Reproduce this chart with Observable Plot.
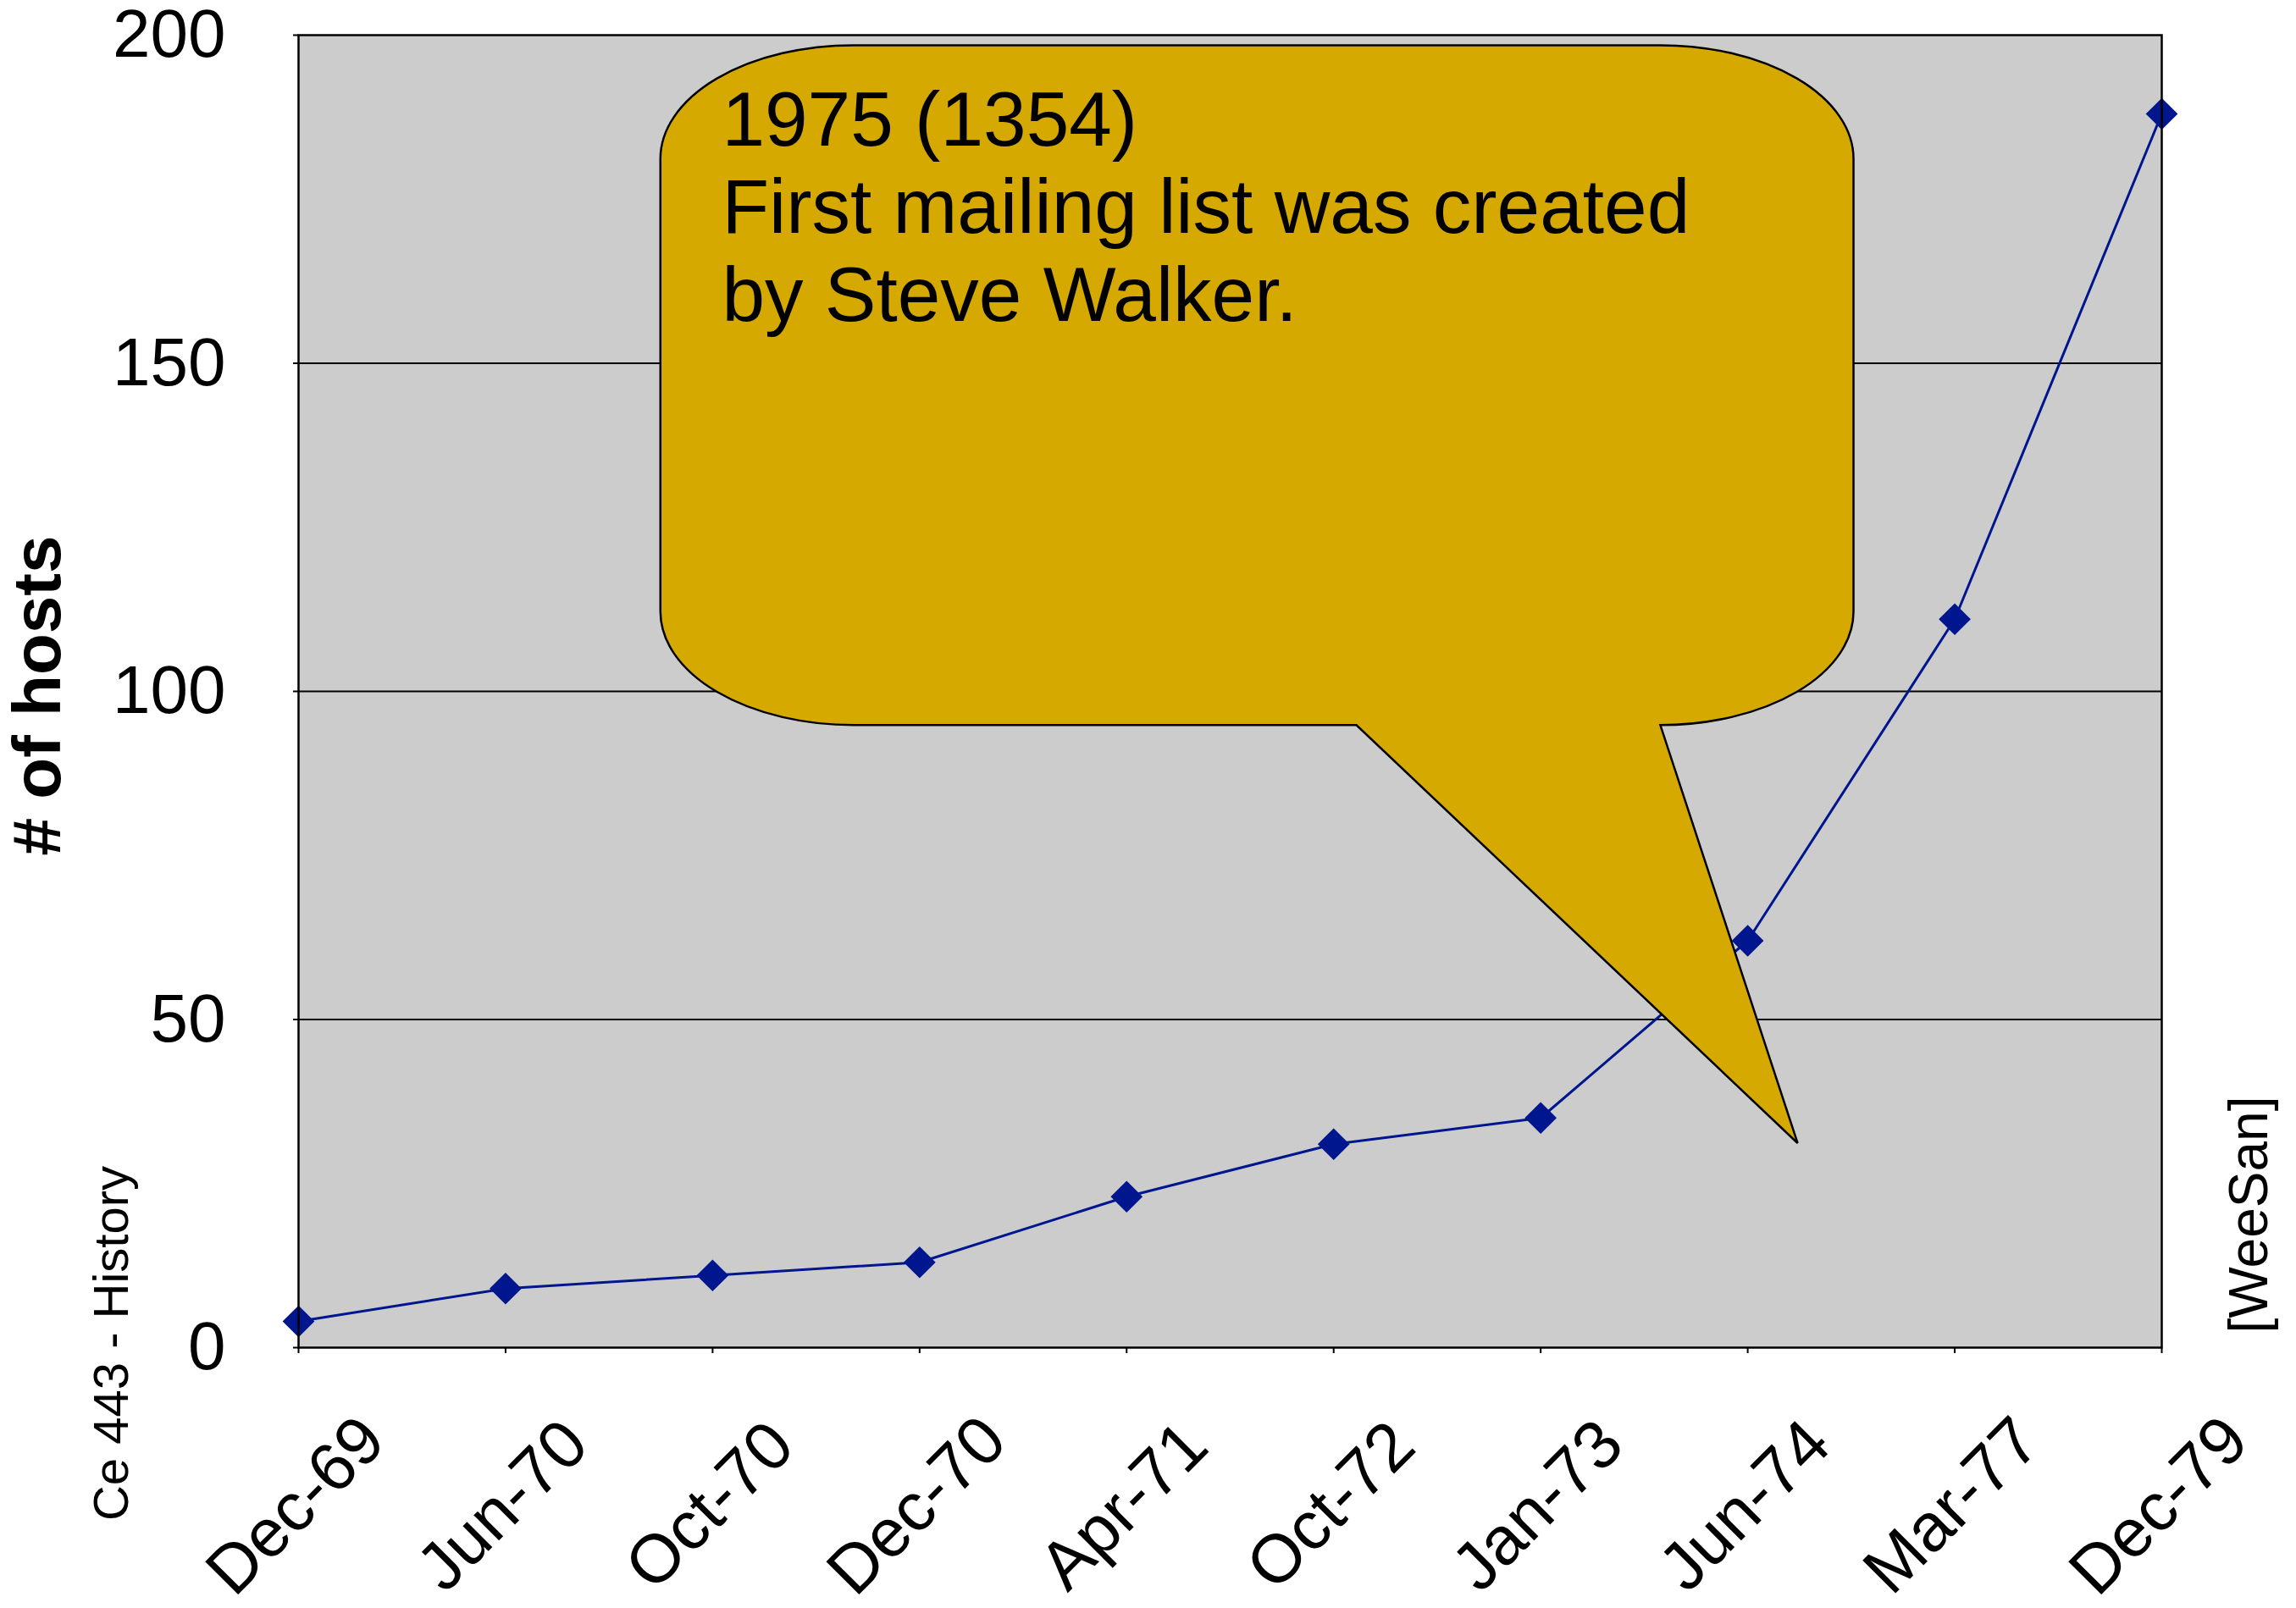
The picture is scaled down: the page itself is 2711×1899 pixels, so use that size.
<!DOCTYPE html>
<html><head><meta charset="utf-8">
<script src="https://cdn.jsdelivr.net/npm/d3@7"></script>
<script src="https://cdn.jsdelivr.net/npm/@observablehq/plot@0.6"></script>
<style>html,body{margin:0;padding:0;background:#fff;overflow:hidden}</style>
</head><body><div id="chart"></div>
<script>
const months = ["Dec-69","Jun-70","Oct-70","Dec-70","Apr-71","Oct-72","Jan-73","Jun-74","Mar-77","Dec-79"];
const hosts = [4, 9, 11, 13, 23, 31, 35, 62, 111, 188];
const yTicks = [0, 50, 100, 150, 200];
const noteLines = ["1975 (1354)", "First mailing list was created", "by Steve Walker."];
const yLabel = "# of hosts";
const leftNote = "Ce 443 - History";
const rightNote = "[WeeSan]";

const data = months.map((m, i) => ({i, month: m, hosts: hosts[i]}));
const idx = months.map((m, i) => i);

// callout geometry in data units (x = category index, y = hosts)
const callout = {x1: 1.75, x2: 7.513, y1: 94.8, y2: 198.4, rx: 0.933, ry: 17.3,
  base1: 5.112, tipX: 7.243, tipY: 31.1, textX: 2.045, textY: 192.7};

const navy = "#00168f";
const gold = "#d5a900";

function bubble(index, scales) {
  const {x, y} = scales;
  const L = x(callout.x1), R = x(callout.x2), T = y(callout.y2), B = y(callout.y1);
  const rx = x(callout.x1 + callout.rx) - L, ry = y(callout.y2 - callout.ry) - T;
  const d = `M${L + rx},${T} L${R - rx},${T} A${rx},${ry} 0 0 1 ${R},${T + ry} L${R},${B - ry} ` +
    `A${rx},${ry} 0 0 1 ${R - rx},${B} L${x(callout.tipX)},${y(callout.tipY)} L${x(callout.base1)},${B} ` +
    `L${L + rx},${B} A${rx},${ry} 0 0 1 ${L},${B - ry} L${L},${T + ry} A${rx},${ry} 0 0 1 ${L + rx},${T} Z`;
  return d3.create("svg:path").attr("d", d).attr("fill", gold)
    .attr("stroke", "black").attr("stroke-width", 2.5).attr("stroke-linejoin", "miter").node();
}

const chart = Plot.plot({
  width: 2711,
  height: 1899,
  marginLeft: 352,
  marginRight: 159,
  marginTop: 41,
  marginBottom: 308,
  style: {fontFamily: "'Liberation Sans', Arial, sans-serif", background: "white", color: "black"},
  x: {type: "linear", domain: [0, months.length - 1]},
  y: {domain: [0, 200]},
  marks: [
    Plot.frame({fill: "#cccccc"}),
    Plot.gridY([50, 100, 150], {stroke: "black", strokeOpacity: 1, strokeWidth: 2.2}),
    Plot.line(data, {x: "i", y: "hosts", stroke: navy, strokeWidth: 3}),
    Plot.dot(data, {x: "i", y: "hosts", symbol: "diamond2", r: 17, fill: navy, stroke: "none"}),
    bubble,
    Plot.text([{x: callout.textX, y: callout.textY, t: noteLines.join("\n")}],
      {x: "x", y: "y", text: "t", textAnchor: "start", lineAnchor: "top", lineHeight: 1.14, fontSize: 91, fill: "black"}),
    Plot.frame({stroke: "black", strokeWidth: 2.5}),
    Plot.axisY(yTicks, {tickSize: 6, tickPadding: 80, fontSize: 80, label: null, strokeWidth: 2}),
    Plot.axisX(idx, {tickSize: 7, tickFormat: () => "", label: null, strokeWidth: 2}),
    Plot.text(data, {x: "i", text: "month", frameAnchor: "bottom", rotate: -45, textAnchor: "middle",
      lineAnchor: "middle", dy: 187, dx: -3, fontSize: 80, fill: "black"}),
    Plot.text([yLabel], {text: d => d, frameAnchor: "left", rotate: -90, textAnchor: "middle",
      lineAnchor: "middle", dx: -307, dy: 5, fontSize: 80, fontWeight: "bold", fill: "black"}),
    Plot.text([leftNote], {text: d => d, frameAnchor: "bottom-left", rotate: -90, textAnchor: "middle",
      lineAnchor: "middle", dx: -220, dy: -5, fontSize: 58, fill: "black"}),
    Plot.text([rightNote], {text: d => d, frameAnchor: "bottom-right", rotate: -90, textAnchor: "middle",
      lineAnchor: "middle", dx: 104, dy: -157, fontSize: 64, fill: "black"})
  ]
});
document.getElementById("chart").appendChild(chart);
</script>
</body></html>
